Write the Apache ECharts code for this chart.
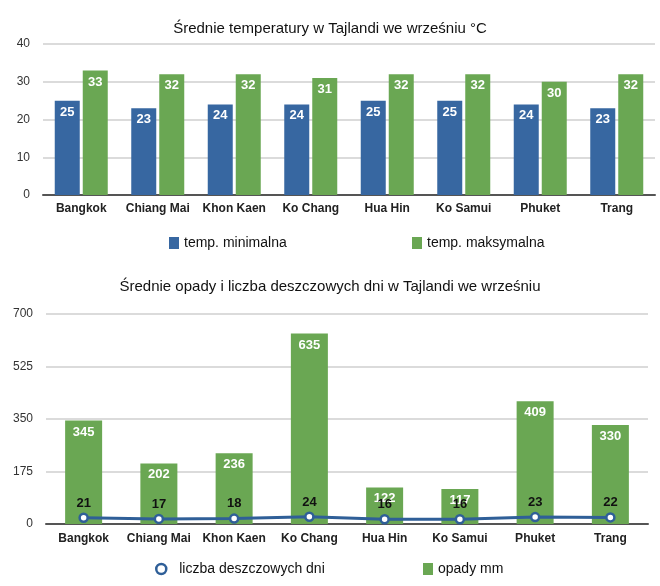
<!DOCTYPE html>
<html>
<head>
<meta charset="utf-8">
<style>
  html, body { margin: 0; padding: 0; background: #fff; }
  #chart { width: 660px; height: 586px; }
</style>
<script src="https://cdn.jsdelivr.net/npm/echarts@6/dist/echarts.min.js"></script>
</head>
<body>
<div id="chart"></div>
<script>
// data
var cities = ['Bangkok', 'Chiang Mai', 'Khon Kaen', 'Ko Chang', 'Hua Hin', 'Ko Samui', 'Phuket', 'Trang']
var tempMin = [25, 23, 24, 24, 25, 25, 24, 23]
var tempMax = [33, 32, 32, 31, 32, 32, 30, 32]
var rainMm = [345, 202, 236, 635, 122, 117, 409, 330]
var rainyDays = [21, 17, 18, 24, 16, 16, 23, 22]

var BLUE = '#3767a1'
var GREEN = '#6aa753'
var LINE_BLUE = '#2f5f98'
var FONT = 'Liberation Sans, Arial, sans-serif'
var NARROW = 'Liberation Sans Narrow, Liberation Sans, sans-serif'

var chart = echarts.init(document.getElementById('chart'))

var barLabel = {
  show: true,
  position: 'insideTop',
  distance: 5,
  color: '#fff',
  fontWeight: 'bold',
  fontSize: 13,
  fontFamily: FONT
}

function xAxisFor(gridIndex, margin) {
  return {
    type: 'category',
    gridIndex: gridIndex,
    data: cities,
    axisTick: { show: false },
    axisLine: { lineStyle: { color: '#555', width: 2 } },
    axisLabel: { color: '#222', fontWeight: 'bold', fontSize: 12, fontFamily: FONT, margin: margin, interval: 0 }
  }
}

function yAxisFor(gridIndex, max, interval) {
  return {
    type: 'value',
    gridIndex: gridIndex,
    min: 0,
    max: max,
    interval: interval,
    axisLine: { show: false },
    axisTick: { show: false },
    axisLabel: { color: '#333', fontSize: 12, fontFamily: FONT, margin: 13 },
    splitLine: { lineStyle: { color: '#cfcfcf', width: 1.5 } }
  }
}

function legendAt(left, top, item, size, textPad) {
  return {
    left: left,
    top: top,
    data: [item],
    itemWidth: size[0],
    itemHeight: size[1],
    itemGap: 0,
    textStyle: { color: '#111', fontSize: 14, fontFamily: FONT, padding: [0, 0, 0, textPad || 0] }
  }
}

chart.setOption({
  animation: false,
  title: [{
    text: 'Średnie temperatury w Tajlandi we wrześniu °C',
    left: 'center',
    top: 16,
    textStyle: { fontSize: 15, fontWeight: 'normal', color: '#111', fontFamily: NARROW }
  }, {
    text: 'Średnie opady i liczba deszczowych dni w Tajlandi we wrześniu',
    left: 'center',
    top: 274,
    textStyle: { fontSize: 15, fontWeight: 'normal', color: '#111', fontFamily: NARROW }
  }],
  legend: [
    legendAt(164, 231, { name: 'temp. minimalna', icon: 'rect' }, [10, 12]),
    legendAt(407, 231, { name: 'temp. maksymalna', icon: 'rect' }, [10, 12]),
    legendAt(150, 557, {
      name: 'liczba deszczowych dni',
      icon: 'circle',
      itemStyle: { color: '#fff', borderColor: LINE_BLUE, borderWidth: 2.5 }
    }, [10, 10], 8),
    legendAt(418, 557, { name: 'opady mm', icon: 'rect' }, [10, 12])
  ],
  grid: [
    { left: 43, right: 5, top: 44, bottom: 391 },
    { left: 46, right: 12, top: 314, bottom: 62 }
  ],
  xAxis: [xAxisFor(0, 8), xAxisFor(1, 9)],
  yAxis: [yAxisFor(0, 40, 10), yAxisFor(1, 700, 175)],
  series: [{
    name: 'temp. minimalna',
    type: 'bar',
    xAxisIndex: 0,
    yAxisIndex: 0,
    data: tempMin,
    itemStyle: { color: BLUE },
    barWidth: 25,
    barGap: '12%',
    label: barLabel
  }, {
    name: 'temp. maksymalna',
    type: 'bar',
    xAxisIndex: 0,
    yAxisIndex: 0,
    data: tempMax,
    itemStyle: { color: GREEN },
    barWidth: 25,
    barGap: '12%',
    label: barLabel
  }, {
    name: 'opady mm',
    type: 'bar',
    xAxisIndex: 1,
    yAxisIndex: 1,
    data: rainMm,
    itemStyle: { color: GREEN },
    barWidth: 37,
    label: barLabel
  }, {
    name: 'liczba deszczowych dni',
    type: 'line',
    xAxisIndex: 1,
    yAxisIndex: 1,
    data: rainyDays,
    symbol: 'circle',
    symbolSize: 8,
    itemStyle: { color: '#fff', borderColor: LINE_BLUE, borderWidth: 2.5 },
    lineStyle: { color: LINE_BLUE, width: 3 },
    z: 5,
    label: {
      show: true,
      position: 'top',
      distance: 3,
      color: '#111',
      fontWeight: 'bold',
      fontSize: 13,
      fontFamily: FONT
    }
  }]
})
</script>
</body>
</html>
